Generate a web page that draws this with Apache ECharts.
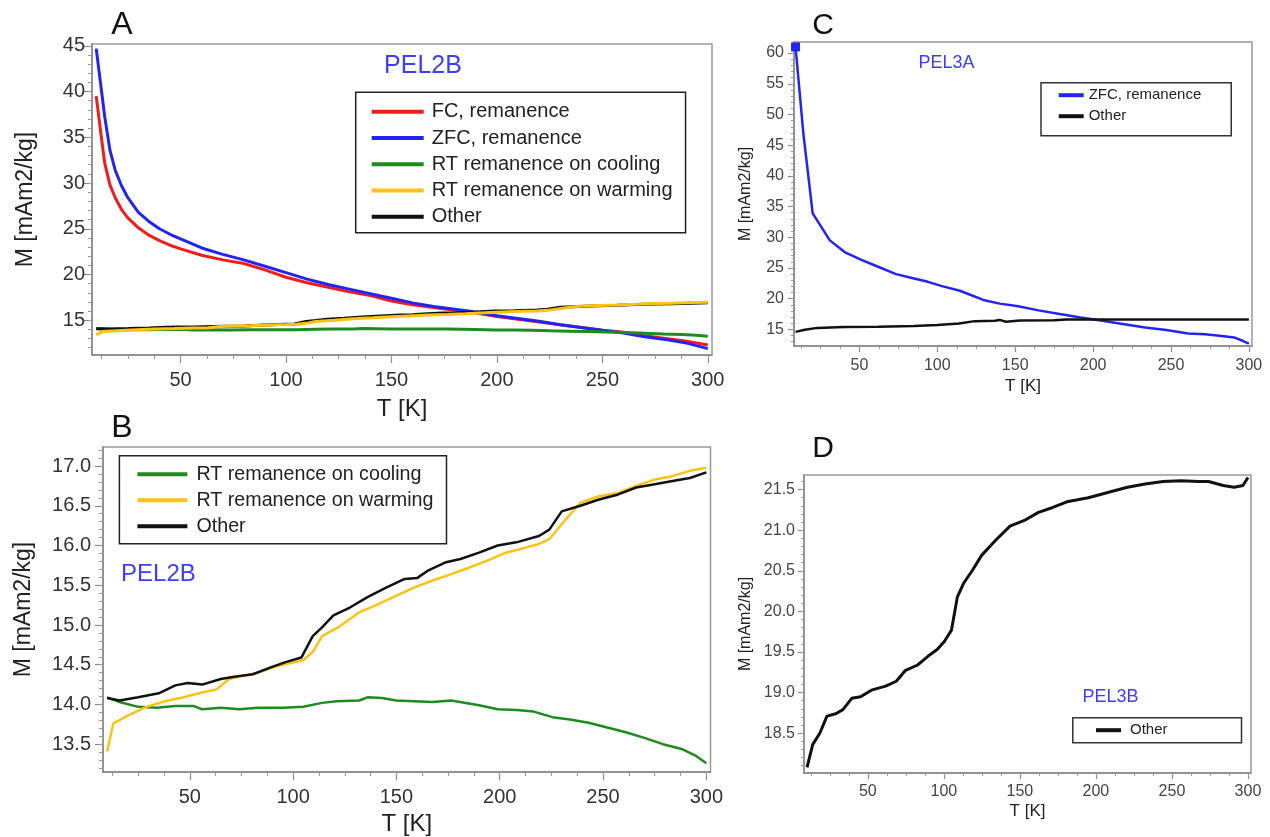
<!DOCTYPE html>
<html><head><meta charset="utf-8">
<script src="https://cdn.jsdelivr.net/npm/echarts@6/dist/echarts.min.js"></script>
<style>html,body{margin:0;padding:0;background:#fff}#c{width:1270px;height:837px}</style>
</head><body><div id="c"></div>
<script>
// ---------- DATA ----------
// Panel A (PEL2B) FC / ZFC remanence
const T_A = [10,12,14,16.5,19,22,25,30,35,40,45,50,60,70,80,90,100,110,120,130,140,150,160,170,180,190,200,210,220,230,240,250,260,270,280,290,300];
const FC_A = [39.5,35.8,32.2,29.8,28.4,27.1,26.2,25.1,24.3,23.7,23.2,22.8,22.1,21.6,21.2,20.5,19.7,19.1,18.6,18.1,17.7,17.1,16.7,16.4,16.1,15.8,15.4,15.1,14.8,14.5,14.2,13.9,13.7,13.3,13.0,12.7,12.3];
const ZFC_A = [44.7,41.0,37.3,33.6,31.4,29.7,28.4,26.8,25.8,25.0,24.4,23.9,22.9,22.2,21.6,20.9,20.2,19.5,18.9,18.4,17.9,17.4,16.9,16.5,16.2,15.9,15.5,15.2,14.9,14.5,14.2,13.9,13.6,13.2,12.9,12.5,11.9];
// PEL2B RT remanence curves (panels A and B)
const T_COOL = [10,16,25,34,43,52,56,65,74,83,95,105,114,121,132,136,143,150,158.5,167.5,176.5,190,199,208,216.5,225.5,234,243,252,261,270,279,288,294.5,300];
const M_COOL = [14.09,14.03,13.97,13.96,13.98,13.98,13.94,13.96,13.94,13.96,13.96,13.97,14.02,14.04,14.05,14.09,14.08,14.05,14.04,14.03,14.05,13.99,13.94,13.93,13.91,13.84,13.81,13.77,13.71,13.65,13.58,13.50,13.44,13.36,13.26];
const T_WARM = [10,13,20,29,38,47,56,63,69,76,83,92,100.5,105,109.5,114,123,132,141,150,158.5,167.5,176.5,185,194,203,212,219,224,232,239,248,257,266,275,283,292,300];
const M_WARM = [13.41,13.76,13.86,13.97,14.04,14.09,14.15,14.19,14.32,14.36,14.40,14.48,14.53,14.56,14.66,14.86,14.99,15.16,15.26,15.37,15.47,15.56,15.64,15.72,15.81,15.91,15.97,16.02,16.08,16.33,16.54,16.62,16.66,16.75,16.83,16.87,16.94,16.98];
const T_OTHER_B = [10,16,25,35,43,49,56,65,71.5,80.5,89.5,96,104,109.5,114,119.5,127.5,136,145,154,160,165,174,181,190,199,208,219,224,230,239,248,257,266,275,283,292,300];
const M_OTHER_B = [14.08,14.05,14.09,14.14,14.24,14.27,14.25,14.32,14.35,14.38,14.47,14.53,14.59,14.86,14.97,15.12,15.22,15.35,15.47,15.58,15.59,15.68,15.79,15.83,15.91,16.0,16.04,16.12,16.2,16.43,16.5,16.58,16.64,16.73,16.77,16.81,16.85,16.92];
// Panel C (PEL3A)
const T_ZFC_C = [9,14,20,25.5,31,40.5,50.5,62,73.5,85,94,103,114.5,121.5,129.5,140,151,165,178.5,192,206,220,233.5,247,261,272,284,290.5,296,300];
const M_ZFC_C = [61.0,46.9,33.9,31.7,29.5,27.6,26.4,25.2,24.0,23.3,22.75,22.05,21.3,20.6,19.8,19.2,18.8,18.1,17.5,16.95,16.4,15.85,15.3,14.9,14.35,14.2,13.9,13.7,13.15,12.7];
const T_OTHER_C = [9,15,23,40,62,85,100,114,124,137,140,144,153,175,183,300];
const M_OTHER_C = [14.6,14.95,15.25,15.4,15.45,15.55,15.7,15.95,16.35,16.4,16.55,16.25,16.45,16.5,16.63,16.63];
// Panel D (PEL3B)
const T_OTHER_D = [10,13.7,18.4,23.1,28.9,33.6,39.4,45.2,52.3,61.7,68.7,74.5,82.7,89.7,95.6,100.3,105,108.9,113.1,118.9,124.8,134.2,143.5,152.9,162.2,171.6,180.9,195,209,220.7,232.4,244.1,255.8,267.5,274,283.8,290.9,296.7,300];
const M_OTHER_D = [18.08,18.36,18.5,18.71,18.74,18.79,18.93,18.95,19.03,19.08,19.14,19.27,19.34,19.45,19.53,19.63,19.77,20.18,20.35,20.51,20.69,20.88,21.05,21.12,21.22,21.28,21.35,21.4,21.47,21.53,21.57,21.6,21.61,21.6,21.6,21.55,21.53,21.55,21.65];
// Tick labels
const X_TICKS = [50,100,150,200,250,300];
const Y_TICKS_A = [15,20,25,30,35,40,45];
const Y_TICKS_B = [13.5,14.0,14.5,15.0,15.5,16.0,16.5,17.0];
const Y_TICKS_C = [15,20,25,30,35,40,45,50,55,60];
const Y_TICKS_D = [18.5,19.0,19.5,20.0,20.5,21.0,21.5];
// Axis extents
const X_RANGE = [8, 302];
const Y_RANGE_A = [11.2, 45.2];
const Y_RANGE_B = [13.15, 17.24];
const Y_RANGE_C = [12.3, 61.8];
const Y_RANGE_D = [18.01, 21.68];

// ---------- helpers ----------
function pairs(xs, ys){ return xs.map((x,i)=>[x, ys[i]]); }
function steps(a, b, s){ const r=[]; const n=Math.round((b-a)/s); for(let i=0;i<=n;i++) r.push(+(a+i*s).toFixed(4)); return r; }
const FF = "'Liberation Sans', Arial, Helvetica, sans-serif";

const panels = [
  {grid:{left:92, top:44, width:620, height:311}, yr:Y_RANGE_A, yt:Y_TICKS_A, ym:steps(12,45,1), yfmt:v=>String(v),
   lab:20, labC:'#333', xm:15, ymg:7, tl:8, tm:4, yName:'M [mAm2/kg]', yGap:55, nameF:23, xGap:42, xNameF:24, bw:1.5},
  {grid:{left:103, top:447, width:607.5, height:326}, yr:Y_RANGE_B, yt:Y_TICKS_B, ym:steps(13.2,17.2,0.1), yfmt:v=>v.toFixed(1),
   lab:20, labC:'#333', xm:15, ymg:12, tl:8, tm:4, yName:'M [mAm2/kg]', yGap:68, nameF:23, xGap:40, xNameF:24, bw:1.5},
  {grid:{left:794, top:42, width:458, height:304}, yr:Y_RANGE_C, yt:Y_TICKS_C, ym:steps(13,61,1), yfmt:v=>String(v),
   lab:16, labC:'#444', xm:12, ymg:10, tl:6, tm:3, yName:'M [mAm2/kg]', yGap:40, nameF:16, xGap:32, xNameF:17, bw:1.5},
  {grid:{left:804, top:475, width:447, height:298}, yr:Y_RANGE_D, yt:Y_TICKS_D, ym:steps(18.1,21.6,0.1), yfmt:v=>v.toFixed(1),
   lab:16, labC:'#444', xm:11, ymg:9, tl:6, tm:3, yName:'M [mAm2/kg]', yGap:50, nameF:16, xGap:30, xNameF:17, bw:1.5}
];
const X_MINOR = steps(12.5, 300, 12.5);

const grids=[], xAxes=[], yAxes=[];
panels.forEach((p,i)=>{
  grids.push(Object.assign({show:true, borderColor:'#999', borderWidth:p.bw, backgroundColor:'#fff'}, p.grid));
  xAxes.push({type:'value', gridIndex:i, min:X_RANGE[0], max:X_RANGE[1], position:'bottom',
    axisLine:{show:true, onZero:false, lineStyle:{color:'#888', width:1.5}},
    axisTick:{show:true, customValues:X_TICKS, length:p.tl, lineStyle:{color:'#888', width:1.2}},
    axisLabel:{customValues:X_TICKS, fontSize:p.lab, color:p.labC, fontFamily:FF, margin:p.xm},
    splitLine:{show:false},
    name:'T [K]', nameLocation:'middle', nameGap:p.xGap, nameTextStyle:{fontSize:p.xNameF, color:'#222', fontFamily:FF}});
  xAxes.push({type:'value', gridIndex:i, min:X_RANGE[0], max:X_RANGE[1], position:'bottom', offset:0,
    axisLine:{show:false}, axisTick:{show:true, customValues:X_MINOR, length:p.tm, lineStyle:{color:'#999', width:1}},
    axisLabel:{show:false}, splitLine:{show:false}});
  yAxes.push({type:'value', gridIndex:i, min:p.yr[0], max:p.yr[1], position:'left',
    axisLine:{show:true, onZero:false, lineStyle:{color:'#888', width:1.5}},
    axisTick:{show:true, customValues:p.yt, length:p.tl, lineStyle:{color:'#888', width:1.2}},
    axisLabel:{customValues:p.yt, formatter:p.yfmt, fontSize:p.lab, color:p.labC, fontFamily:FF, margin:p.ymg},
    splitLine:{show:false},
    name:p.yName, nameLocation:'middle', nameGap:p.yGap, nameRotate:90, nameTextStyle:{fontSize:p.nameF, color:'#222', fontFamily:FF}});
  yAxes.push({type:'value', gridIndex:i, min:p.yr[0], max:p.yr[1], position:'left', offset:0,
    axisLine:{show:false}, axisTick:{show:true, customValues:p.ym, length:p.tm, lineStyle:{color:'#999', width:1}},
    axisLabel:{show:false}, splitLine:{show:false}});
});

const C_RED='#f21c1c', C_BLUE='#2424f2', C_GREEN='#1f8a1f', C_YEL='#fdc214', C_BLK='#111111', C_TXT='#3d3dff';
function line(name, data, color, g, w, z){
  return {type:'line', name, data, xAxisIndex:2*g, yAxisIndex:2*g, showSymbol:false, symbol:'none',
    lineStyle:{color, width:w}, itemStyle:{color}, z:z||2, animation:false, silent:true};
}
const zfcC = pairs(T_ZFC_C, M_ZFC_C).map((v,i)=> i===0 ? {value:v, symbol:'rect', symbolSize:9} : v);
const series = [
  line('FC, remanence', pairs(T_A, FC_A), C_RED, 0, 3),
  line('ZFC, remanence', pairs(T_A, ZFC_A), C_BLUE, 0, 3),
  line('RT remanence on cooling', pairs(T_COOL, M_COOL), C_GREEN, 0, 3),
  line('Other', pairs(T_OTHER_B, M_OTHER_B), C_BLK, 0, 3),
  line('RT remanence on warming', pairs(T_WARM, M_WARM), C_YEL, 0, 3, 3),
  line('RT remanence on cooling', pairs(T_COOL, M_COOL), C_GREEN, 1, 2.5),
  line('RT remanence on warming', pairs(T_WARM, M_WARM), C_YEL, 1, 2.5),
  line('Other', pairs(T_OTHER_B, M_OTHER_B), C_BLK, 1, 2.5),
  Object.assign(line('ZFC, remanence', zfcC, C_BLUE, 2, 2.5), {showSymbol:true, symbol:'none'}),
  line('Other', pairs(T_OTHER_C, M_OTHER_C), C_BLK, 2, 2.5),
  line('Other', pairs(T_OTHER_D, M_OTHER_D), C_BLK, 3, 3)
];

function legend(data, left, top, pad, gap, iw, ih, fs, tpad, extra){
  return Object.assign({data, orient:'vertical', left, top, padding:pad, itemGap:gap, itemWidth:iw, itemHeight:ih,
    icon:'rect', borderColor:'#222', borderWidth:1.5, backgroundColor:'#fff', selectedMode:false,
    textStyle:{fontSize:fs, color:'#222', fontFamily:FF, padding:[0,0,0,tpad]}}, extra||{});
}
const legends = [
  legend(['FC, remanence','ZFC, remanence','RT remanence on cooling','RT remanence on warming','Other'], 355.7, 92.3, [9.5,13,6,16], 6.25, 52, 4, 20, 3),
  legend(['RT remanence on cooling','RT remanence on warming','Other'], 119.4, 455.7, [8.5,13,7.5,18], 6, 50, 4, 19.7, 4),
  legend(['ZFC, remanence','Other'], 1041, 82.7, [5,30,12,17.7], 6, 25, 4, 15, 0, {borderColor:'#333'}),
  legend(['Other'], 1072.8, 717.7, [5,74,5,23.2], 6, 25, 4, 15, 4, {borderColor:'#333'})
];

function txt(text, x, y, size, color){
  return {type:'text', z:100, style:{x, y, text, fill:color, font:size+'px '+FF, textAlign:'center', textVerticalAlign:'middle', align:'center', verticalAlign:'middle'}};
}
const graphics = [
  txt('A', 122, 25, 32, '#111'), txt('B', 122, 428, 32, '#111'),
  txt('C', 823, 26, 30, '#111'), txt('D', 823, 449, 30, '#111'),
  txt('PEL2B', 423, 66, 25, C_TXT), txt('PEL2B', 158.4, 574.3, 24, C_TXT),
  txt('PEL3A', 946.6, 63, 18, C_TXT), txt('PEL3B', 1110.6, 697, 18, C_TXT)
];

const chart = echarts.init(document.getElementById('c'), null, {renderer:'canvas'});
chart.setOption({animation:false, backgroundColor:'#fff', grid:grids, xAxis:xAxes, yAxis:yAxes, series, legend:legends, graphic:graphics});
</script></body></html>
